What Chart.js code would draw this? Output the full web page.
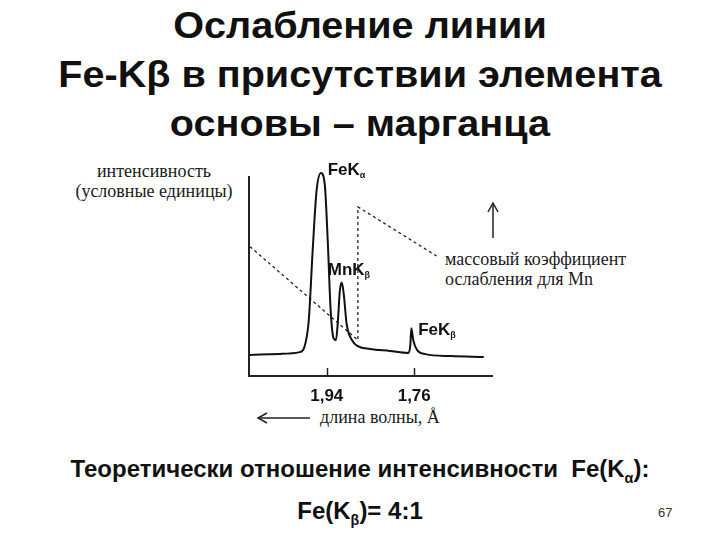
<!DOCTYPE html>
<html>
<head>
<meta charset="utf-8">
<script src="https://cdn.jsdelivr.net/npm/chart.js@4"></script>
<style>
body{margin:0;width:720px;height:540px;background:#fff;position:relative;overflow:hidden;font-family:"Liberation Sans",Arial,sans-serif;color:#111}
.title{position:absolute;left:0;width:720px;text-align:center;font-weight:bold;font-size:36px;line-height:36px;transform:scaleX(1.1)}
.serif{position:absolute;font-family:"Liberation Serif","Times New Roman",serif;font-size:18px;color:#1a1a1a;white-space:nowrap}
.foot{position:absolute;left:0;width:720px;text-align:center;font-weight:bold;font-size:24px;line-height:24px}
sub{font-size:60%}
#wrap{position:absolute;left:230px;top:150px;width:280px;height:270px}
</style>
</head>
<body>

<div class="title" style="top:8px">Ослабление линии</div>
<div class="title" style="top:57px">Fe-Kβ в присутствии элемента</div>
<div class="title" style="top:106px">основы – марганца</div>

<div class="serif" style="left:64px;top:161px;width:180px;text-align:center;line-height:20px">интенсивность<br>(условные единицы)</div>
<div class="serif" style="left:445px;top:249px;line-height:20px">массовый коэффициент<br>ослабления для Mn</div>
<div class="serif" style="left:320px;top:407px;line-height:20px">длина волны, Å</div>

<svg style="position:absolute;left:0;top:0" width="720" height="540">
<g stroke="#222" stroke-width="1.5" fill="none">
<line x1="493" y1="204" x2="493" y2="238"/>
<polyline points="488,212 493,203 498,212"/>
<line x1="258" y1="418" x2="310" y2="418"/>
<polyline points="267,413 258,418 267,423"/>
</g>
</svg>

<div id="wrap"><canvas id="spectrum"></canvas></div>

<div class="foot" style="top:457px">Теоретически отношение интенсивности&nbsp; Fe(K<sub>α</sub>):</div>
<div class="foot" style="top:499px">Fe(K<sub>β</sub>)= 4:1</div>
<div style="position:absolute;left:658px;top:505px;font-size:13px;color:#333">67</div>

<script>
// spectrum, wavelength in angstrom (axis runs right to left)
const wavelength=[2.098,2.036,1.996,1.986,1.977,1.969,1.961,1.952,1.944,1.938,1.932,1.926,1.921,1.917,1.913,1.909,1.905,1.899,1.888,1.876,1.851,1.810,1.772,1.768,1.766,1.762,1.754,1.737,1.685,1.617]
const intensity=[10.6,11.1,12,14.6,28,63,93,102,96,68,33,19,18,28,43,47,41,26,18,15,13.6,12.6,11.6,15.6,24,18,13,11,10,9.5]

// mass attenuation coefficient of Mn (dotted), with K edge
const muWave=[2.098,1.876,1.876,1.712]
const muValue=[65,18,85,60]

const tickWaves=[1.94,1.76]
const tickText=["1,94","1,76"]

const peakNames=["FeK","MnK","FeK"]
const peakSubs=["α","β","β"]
const peakWave=[1.938,1.938,1.752]
const peakValue=[101,50.7,20.6]

const peakLabels={
id:"peakLabels",
afterDatasetsDraw(chart){
const c=chart.ctx
const sx=chart.scales.x
const sy=chart.scales.y
c.save()
c.fillStyle="#111"
c.textBaseline="alphabetic"
peakNames.forEach((name,i)=>{
const px=sx.getPixelForValue(peakWave[i])
const py=sy.getPixelForValue(peakValue[i])
c.font="bold 17px 'Liberation Sans', Arial, sans-serif"
c.fillText(name,px,py)
const w=c.measureText(name).width
c.font="bold 9px 'Liberation Sans', Arial, sans-serif"
c.fillText(peakSubs[i],px+w,py+3)
})
// tick marks point up into the plot
c.strokeStyle="#222"
c.lineWidth=1.5
const base=chart.chartArea.bottom
tickWaves.forEach(v=>{
const px=Math.round(sx.getPixelForValue(v))+0.5
c.beginPath()
c.moveTo(px,base)
c.lineTo(px,base-8)
c.stroke()
})
c.restore()
}
}

new Chart(document.getElementById("spectrum"),{
type:"scatter",
data:{
datasets:[
{
label:"intensity",
data:wavelength.map((w,i)=>({x:w,y:intensity[i]})),
showLine:true,
borderColor:"#111",
borderWidth:2,
pointRadius:0,
cubicInterpolationMode:"monotone",
clip:false
},
{
label:"mu Mn",
data:muWave.map((w,i)=>({x:w,y:muValue[i]})),
showLine:true,
borderColor:"#222",
borderWidth:1.3,
borderDash:[3,3],
pointRadius:0
}
]
},
options:{
responsive:true,
maintainAspectRatio:false,
animation:false,
layout:{padding:{left:19,right:18,top:27,bottom:4}},
plugins:{legend:{display:false},tooltip:{enabled:false}},
scales:{
x:{
type:"linear",
reverse:true,
min:1.6,
max:2.1,
afterBuildTicks:s=>{s.ticks=tickWaves.map(v=>({value:v}))},
afterFit:s=>{s.height=40},
ticks:{
color:"#111",
font:{size:17,weight:"bold",family:"'Liberation Sans', Arial, sans-serif"},
padding:10,
callback:(v,i)=>tickText[i]
},
grid:{display:false,drawTicks:false},
border:{display:true,color:"#222",width:2}
},
y:{
min:0,
max:100,
afterFit:s=>{s.width=0},
ticks:{display:false},
grid:{display:false},
border:{display:true,color:"#222",width:2}
}
}
},
plugins:[peakLabels]
})
</script>
</body>
</html>
